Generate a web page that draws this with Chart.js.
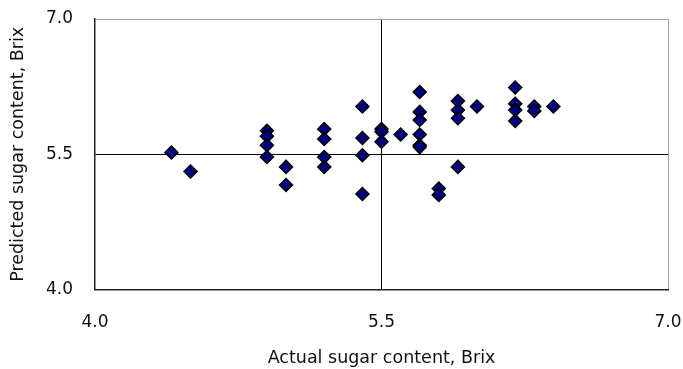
<!DOCTYPE html>
<html>
<head>
<meta charset="utf-8">
<script src="https://cdn.jsdelivr.net/npm/chart.js@4.4.1/dist/chart.umd.min.js"></script>
<style>
  html, body { margin: 0; padding: 0; background: #fff; }
  #wrap { width: 683px; height: 369px; position: relative; }
</style>
</head>
<body>
<div id="wrap"><canvas id="c"></canvas></div>
<script>
const actual = [4.4, 4.5, 4.9, 4.9, 4.9, 4.9, 5.0, 5.0, 5.2, 5.2, 5.2, 5.2, 5.4, 5.4, 5.4, 5.4,
  5.5, 5.5, 5.5, 5.6, 5.7, 5.7, 5.7, 5.7, 5.7, 5.7, 5.8, 5.8, 5.9, 5.9, 5.9, 5.9, 6.0,
  6.2, 6.2, 6.2, 6.2, 6.3, 6.3, 6.4];
const predicted = [5.52, 5.31, 5.76, 5.70, 5.60, 5.47, 5.36, 5.16, 5.78, 5.67, 5.47, 5.36, 6.03, 5.68, 5.49, 5.06,
  5.78, 5.75, 5.64, 5.72, 6.19, 5.97, 5.88, 5.72, 5.60, 5.58, 5.12, 5.05, 6.09, 5.99, 5.90, 5.36, 6.03,
  6.24, 6.06, 5.99, 5.87, 6.03, 5.98, 6.03];
const tickValues = [4.0, 5.5, 7.0];
const xTitle = 'Actual sugar content, Brix';
const yTitle = 'Predicted sugar content, Brix';

const points = actual.map((x, i) => ({ x: x, y: predicted[i] }));
const FONT = 'DejaVu Sans';
const CLEAR = 'rgba(0,0,0,0)';

function gridColor(ctx) {
  const v = ctx.tick ? ctx.tick.value : null;
  if (v === 5.5) return '#000000';
  if (v === 7.0) return '#a0a0a0';
  return CLEAR;
}

new Chart(document.getElementById('c'), {
  type: 'scatter',
  data: {
    datasets: [{
      data: points,
      pointStyle: 'rectRot',
      pointRadius: 6.5,
      pointHoverRadius: 6.5,
      backgroundColor: '#000080',
      borderColor: '#000000',
      borderWidth: 1.5
    }]
  },
  options: {
    responsive: true,
    maintainAspectRatio: false,
    animation: false,
    events: [],
    layout: { padding: { left: 8, right: 15, top: 19, bottom: 0 } },
    plugins: { legend: { display: false }, tooltip: { enabled: false } },
    scales: {
      x: {
        type: 'linear', min: 4.0, max: 7.0,
        afterBuildTicks: (s) => { s.ticks = tickValues.map(v => ({ value: v })); },
        ticks: {
          padding: 0, color: '#111',
          font: { family: FONT, size: 17 },
          callback: (v) => Number(v).toFixed(1)
        },
        grid: { color: gridColor, lineWidth: 1, drawTicks: true, tickLength: 23, tickColor: CLEAR },
        border: { color: '#222', width: 1.5 },
        title: { display: true, text: xTitle, color: '#111', font: { family: FONT, size: 17.5 }, padding: { top: 15, bottom: 0 } }
      },
      y: {
        type: 'linear', min: 4.0, max: 7.0,
        afterBuildTicks: (s) => { s.ticks = tickValues.map(v => ({ value: v })); },
        ticks: {
          padding: 2, color: '#111',
          font: { family: FONT, size: 17 },
          callback: (v) => Number(v).toFixed(1)
        },
        grid: { color: gridColor, lineWidth: 1, drawTicks: true, tickLength: 20, tickColor: CLEAR },
        border: { color: '#222', width: 1.5 },
        title: { display: true, text: yTitle, color: '#111', font: { family: FONT, size: 17.5 }, padding: { top: 0, bottom: 15 } }
      }
    }
  }
});
</script>
</body>
</html>
